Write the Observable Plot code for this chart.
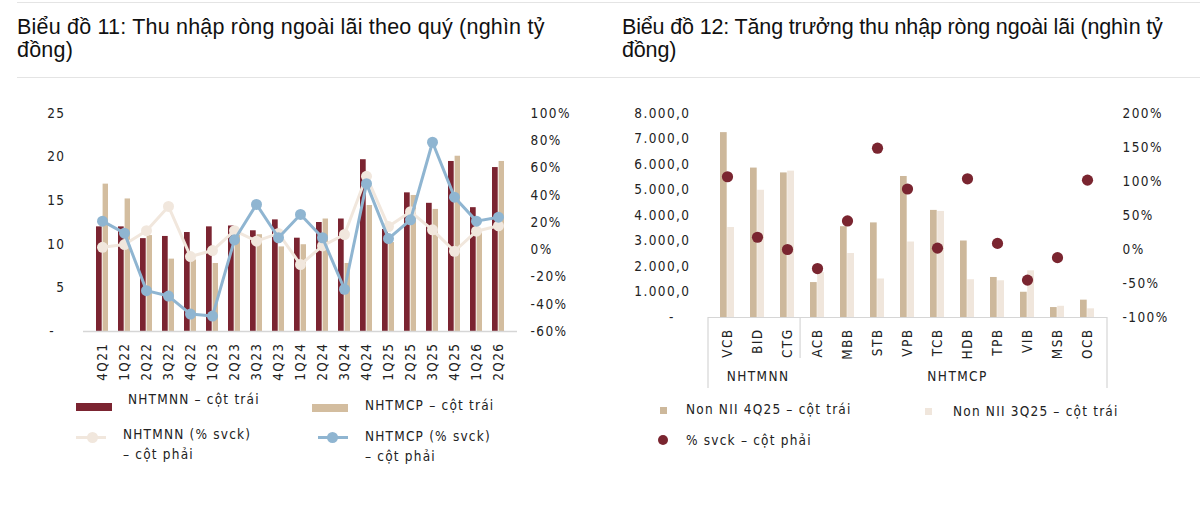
<!DOCTYPE html>
<html><head><meta charset="utf-8">
<script src="https://cdn.jsdelivr.net/npm/d3@7"></script>
<script src="https://cdn.jsdelivr.net/npm/@observablehq/plot@0.6"></script>
<style>
body{margin:0;width:1200px;height:522px;background:#fff;position:relative;overflow:hidden;font-family:"Liberation Sans",Arial,sans-serif}
.hr{position:absolute;left:17px;right:0;height:1px;background:#e4e4e4}
.title{position:absolute;font-size:21.5px;line-height:22.5px;letter-spacing:0.2px;color:#111;white-space:nowrap}
.lg{position:absolute;font-family:"Liberation Sans Narrow","DejaVu Sans Condensed",sans-serif;font-size:13.5px;letter-spacing:1.2px;color:#222;line-height:20px;white-space:nowrap}
.sw{position:absolute}
.chart{position:absolute;top:95px}
</style></head><body>
<div class="hr" style="top:2px"></div>
<div class="hr" style="top:77px"></div>
<div class="title" style="left:17px;top:16px">Biểu đồ 11: Thu nhập ròng ngoài lãi theo quý (nghìn tỷ<br>đồng)</div>
<div class="title" style="left:622px;top:16px;letter-spacing:-0.15px">Biểu đồ 12: Tăng trưởng thu nhập ròng ngoài lãi (nghìn tỷ<br>đồng)</div>
<div id="left" class="chart" style="left:0"></div>
<div id="right" class="chart" style="left:600px"></div>

<!-- left legend -->
<div class="sw" style="left:76px;top:403px;width:36px;height:8px;background:#7b2431"></div>
<div class="lg" style="left:128px;top:389px">NHTMNN – cột trái</div>
<div class="sw" style="left:312px;top:404px;width:36px;height:8px;background:#d3bd9f"></div>
<div class="lg" style="left:365px;top:395px">NHTMCP – cột trái</div>
<div class="sw" style="left:76px;top:436px;width:30px;height:3px;background:#f1e7dd"></div>
<div class="sw" style="left:87px;top:432px;width:11px;height:11px;border-radius:50%;background:#f1e7dd"></div>
<div class="lg" style="left:123px;top:424px">NHTMNN (% svck)<br>– cột phải</div>
<div class="sw" style="left:318px;top:436px;width:30px;height:3px;background:#8fb5d1"></div>
<div class="sw" style="left:327px;top:432px;width:11px;height:11px;border-radius:50%;background:#8fb5d1"></div>
<div class="lg" style="left:365px;top:426px">NHTMCP (% svck)<br>– cột phải</div>

<!-- right legend -->
<div class="sw" style="left:660px;top:407px;width:7px;height:7px;background:#cdb89b"></div>
<div class="lg" style="left:686px;top:399px">Non NII 4Q25 – cột trái</div>
<div class="sw" style="left:925px;top:408px;width:7px;height:7px;background:#f0e6dc"></div>
<div class="lg" style="left:953px;top:401px">Non NII 3Q25 – cột trái</div>
<div class="sw" style="left:658px;top:435px;width:10px;height:10px;border-radius:50%;background:#7a2530"></div>
<div class="lg" style="left:686px;top:430px">% svck – cột phải</div>

<script>
// ---------- Chart 11 data ----------
const quarters = ["4Q21","1Q22","2Q22","3Q22","4Q22","1Q23","2Q23","3Q23","4Q23","1Q24","2Q24","3Q24","4Q24","1Q25","2Q25","3Q25","4Q25","1Q26","2Q26"];
const nnValues = [12.0,12.0,10.65,10.9,11.35,12.0,12.1,11.55,12.8,10.7,12.5,12.9,19.7,11.7,15.9,14.7,19.5,14.2,18.8];
const cpValues = [16.9,15.2,11.0,8.3,8.2,7.8,11.0,11.1,9.7,9.95,12.9,7.8,14.45,10.2,15.6,14.0,20.1,11.3,19.5];
const nnYoY = [1.8,3.8,14,31.8,-5,-0.6,14,6.3,12,-10.9,2.8,11.2,53.9,17,27.9,14.6,-1.1,13.6,17.6];
const cpYoY = [21,12.2,-30,-34,-47.2,-48.7,7.3,33.3,8.8,25.9,8.8,-29,48.5,8.2,22,78.9,38.6,21,23.9];
const leftTicksL = [0,5,10,15,20,25];
const rightTicksL = [-60,-40,-20,0,20,40,60,80,100];

// ---------- Chart 12 data ----------
const banks = ["VCB","BID","CTG","ACB","MBB","STB","VPB","TCB","HDB","TPB","VIB","MSB","OCB"];
const bankGroup = ["NHTMNN","NHTMNN","NHTMNN","NHTMCP","NHTMCP","NHTMCP","NHTMCP","NHTMCP","NHTMCP","NHTMCP","NHTMCP","NHTMCP","NHTMCP"];
const nii4Q25 = [7250,5860,5670,1370,3560,3710,5530,4200,3000,1570,990,390,680];
const nii3Q25 = [3530,4990,5740,1760,2510,1510,2960,4160,1480,1440,1830,440,340];
const yoyPct = [107,18,0,-28,42,149,89,2,104,9,-45,-12,102];
const leftTicksR = [0,1000,2000,3000,4000,5000,6000,7000,8000];
const rightTicksR = [-100,-50,0,50,100,150,200];

const tickFont = {fontFamily:'"Liberation Sans Narrow","DejaVu Sans Condensed",sans-serif', fontSize:"13.5px", letterSpacing:"1.4px", color:"#222", overflow:"visible", background:"transparent"};

// dual-axis mapping helpers
const mapper = (from, to) => v => (v - from[0]) / (from[1] - from[0]) * (to[1] - to[0]) + to[0];

// ---------- Chart 11 ----------
{
  const yDom = [0,25], pDom = [-60,100];
  const toL = mapper(pDom, yDom), toP = mapper(yDom, pDom);
  const rows = quarters.map((q,i)=>({q, nn:nnValues[i], cp:cpValues[i], nnY:toL(nnYoY[i]), cpY:toL(cpYoY[i])}));
  const chart = Plot.plot({
    width:600, height:290, marginLeft:83, marginRight:83, marginTop:18, marginBottom:54,
    style:tickFont,
    x:{domain:quarters, paddingInner:0.475, paddingOuter:0.2375, axis:null},
    y:{domain:yDom, axis:null},
    marks:[
      Plot.barY(rows,{x:"q", y:"nn", fill:"#7b2431", insetRight:6.3}),
      Plot.barY(rows,{x:"q", y:"cp", fill:"#d3bd9f", insetLeft:6.6}),
      Plot.ruleY([0],{stroke:"#d6d6d6", strokeWidth:1.5}),
      Plot.line(rows,{x:"q", y:"nnY", stroke:"#f1e7dd", strokeWidth:3}),
      Plot.dot(rows,{x:"q", y:"nnY", r:5.5, fill:"#f1e7dd"}),
      Plot.line(rows,{x:"q", y:"cpY", stroke:"#8fb5d1", strokeWidth:3}),
      Plot.dot(rows,{x:"q", y:"cpY", r:5.5, fill:"#8fb5d1"}),
      Plot.axisY(leftTicksL,{anchor:"left", tickSize:0, tickPadding:18, label:null, tickFormat:v=> v===0 ? "-\u00a0\u00a0" : String(v)}),
      Plot.axisY(rightTicksL.map(toL),{anchor:"right", tickSize:0, tickPadding:13, label:null, tickFormat:v=> Math.round(toP(v)) + "%"}),
      Plot.axisX({anchor:"bottom", tickSize:0, tickPadding:11, tickRotate:-90, label:null})
    ]
  });
  document.getElementById("left").appendChild(chart);
}

// ---------- Chart 12 ----------
{
  const yDom = [0,8000], pDom = [-100,200];
  const toL = mapper(pDom, yDom), toP = mapper(yDom, pDom);
  const rows = banks.map((b,i)=>({b, a:nii4Q25[i], c:nii3Q25[i], p:toL(yoyPct[i])}));
  const loc = d3.formatLocale({decimal:",", thousands:".", grouping:[3], currency:["",""]});
  const fmt = loc.format(",.1f");
  const chart = Plot.plot({
    width:600, height:300, marginLeft:108, marginRight:93, marginTop:18, marginBottom:78,
    style:tickFont,
    x:{domain:banks, paddingInner:0.53, paddingOuter:0.265, axis:null},
    y:{domain:yDom, axis:null},
    marks:[
      Plot.barY(rows,{x:"b", y:"a", fill:"#cdb89b", insetRight:7.3}),
      Plot.barY(rows,{x:"b", y:"c", fill:"#f0e6dc", insetLeft:7.2}),
      Plot.ruleY([0],{stroke:"#d6d6d6", strokeWidth:1.2}),
      Plot.dot(rows,{x:"b", y:"p", r:5.6, fill:"#7a2530"}),
      Plot.axisY(leftTicksR,{anchor:"left", tickSize:0, tickPadding:18, label:null, tickFormat:v=> v===0 ? "-\u00a0\u00a0\u00a0" : fmt(v)}),
      Plot.axisY(rightTicksR.map(toL),{anchor:"right", tickSize:0, tickPadding:15, label:null, tickFormat:v=> Math.round(toP(v)) + "%"}),
      Plot.axisX({anchor:"bottom", tickSize:0, tickPadding:11, tickRotate:-90, label:null})
    ]
  });
  // category group frame derived from the x scale
  const xs = chart.scale("x"), ys = chart.scale("y");
  const [r0, r1] = xs.range;
  const step = (r1 - r0) / banks.length;
  const y0 = ys.apply(0);
  const svg = d3.select(chart);
  const groups = [...new Set(bankGroup)];
  const bounds = [0];
  groups.forEach(g => bounds.push(bankGroup.lastIndexOf(g) + 1));
  const g = svg.append("g").attr("stroke","#d6d6d6").attr("stroke-width",1.2);
  bounds.forEach((k, j) => {
    const x = r0 + k * step;
    const outer = (j === 0 || j === bounds.length - 1);
    g.append("line").attr("x1",x).attr("x2",x).attr("y1",y0).attr("y2", outer ? y0 + 71 : y0 + 41);
  });
  groups.forEach((name, j) => {
    const xc = r0 + (bounds[j] + bounds[j+1]) / 2 * step;
    svg.append("text").attr("x", xc + 4).attr("y", y0 + 60).attr("text-anchor","middle")
      .attr("dominant-baseline","middle").attr("fill","#222").text(name);
  });
  document.getElementById("right").appendChild(chart);
}
</script>
</body></html>
